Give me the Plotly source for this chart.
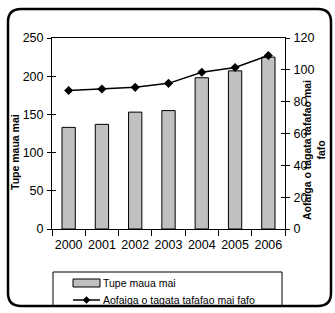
import plotly.graph_objects as go

years = ["2000", "2001", "2002", "2003", "2004", "2005", "2006"]
tupe = [133, 137, 153, 155, 198, 207, 225]
aofaiga = [87, 88, 89, 91.5, 98.5, 101.5, 109]
bar_name = "Tupe maua mai"
line_name = "Aofaiga o tagata tafafao mai fafo"
left_title = "Tupe maua mai"
right_title = "Aofaiga o tagata tafafao mai<br>fafo"

W, H = 335, 313
L, R, T, B = 52, 50, 38, 84
pw, ph = W - L - R, H - T - B

def px(x):
    return (x - L) / pw

def py(y):
    return (H - B - y) / ph

FONT = "Liberation Sans, Arial, sans-serif"

fig = go.Figure()
fig.add_trace(go.Bar(x=years, y=tupe, name=bar_name, width=0.4,
                     marker=dict(color="#c0c0c0", line=dict(color="black", width=1)),
                     showlegend=False))
fig.add_trace(go.Scatter(x=years, y=aofaiga, name=line_name, yaxis="y2",
                         mode="lines+markers",
                         line=dict(color="black", width=1.5),
                         marker=dict(symbol="diamond", size=7, color="black"),
                         showlegend=False))
# invisible helpers so the inside-tick axes are drawn
fig.add_trace(go.Scatter(x=[years[0]], y=[0], yaxis="y3", mode="markers",
                         marker=dict(opacity=0), hoverinfo="skip", showlegend=False))
fig.add_trace(go.Scatter(x=[years[0]], y=[0], yaxis="y4", mode="markers",
                         marker=dict(opacity=0), hoverinfo="skip", showlegend=False))

shapes = []
# outer rounded border
x0, x1, y0, y1, r = 8, 331, 9, 306, 13
path = (f"M {px(x0+r)},{py(y0)} L {px(x1-r)},{py(y0)} Q {px(x1)},{py(y0)} {px(x1)},{py(y0+r)} "
        f"L {px(x1)},{py(y1-r)} Q {px(x1)},{py(y1)} {px(x1-r)},{py(y1)} "
        f"L {px(x0+r)},{py(y1)} Q {px(x0)},{py(y1)} {px(x0)},{py(y1-r)} "
        f"L {px(x0)},{py(y0+r)} Q {px(x0)},{py(y0)} {px(x0+r)},{py(y0)} Z")
shapes.append(dict(type="path", xref="paper", yref="paper", path=path,
                   line=dict(color="black", width=2.5)))
# legend box
shapes.append(dict(type="rect", xref="paper", yref="paper",
                   x0=px(53), x1=px(282), y0=py(272), y1=py(306),
                   line=dict(color="black", width=1)))
# legend bar swatch
shapes.append(dict(type="rect", xref="paper", yref="paper",
                   x0=px(73), x1=px(100), y0=py(279), y1=py(287),
                   fillcolor="#c0c0c0", line=dict(color="black", width=1)))
# legend line swatch
shapes.append(dict(type="line", xref="paper", yref="paper",
                   x0=px(73), x1=px(100), y0=py(300), y1=py(300),
                   line=dict(color="black", width=1.5)))
cx, cy, d = 86.5, 300, 3.5
shapes.append(dict(type="path", xref="paper", yref="paper",
                   path=f"M {px(cx)},{py(cy-d)} L {px(cx+d)},{py(cy)} L {px(cx)},{py(cy+d)} L {px(cx-d)},{py(cy)} Z",
                   fillcolor="black", line=dict(color="black", width=0.5)))

annotations = [
    dict(text=bar_name, xref="paper", yref="paper", x=px(101), y=py(283),
         xanchor="left", yanchor="middle", showarrow=False,
         font=dict(family=FONT, size=10.5, color="black")),
    dict(text=line_name, xref="paper", yref="paper", x=px(101), y=py(300),
         xanchor="left", yanchor="middle", showarrow=False,
         font=dict(family=FONT, size=10.5, color="black")),
    dict(text=f"<b>{left_title}</b>", xref="paper", yref="paper", x=px(15), y=py(152),
         xanchor="center", yanchor="middle", showarrow=False, textangle=-90,
         font=dict(family=FONT, size=10.5, color="black")),
    dict(text=f"<b>{right_title}</b>", xref="paper", yref="paper", x=px(314), y=py(150),
         xanchor="center", yanchor="middle", showarrow=False, textangle=-90,
         font=dict(family=FONT, size=10.5, color="black")),
]

axis_font = dict(family=FONT, size=12.5, color="black")
fig.update_layout(
    width=W, height=H,
    margin=dict(l=L, r=R, t=T, b=B),
    paper_bgcolor="white", plot_bgcolor="white",
    showlegend=False,
    bargap=0.6,
    xaxis=dict(type="category", showline=True, linecolor="black", linewidth=1,
               mirror=True, ticks="outside", tickson="boundaries", ticklen=6,
               tickcolor="black", showgrid=False, tickfont=axis_font,
               tickangle=0, ticklabelstandoff=4),
    yaxis=dict(range=[0, 250], dtick=50, showline=True, linecolor="black", linewidth=1,
               ticks="outside", ticklen=4, tickcolor="black", showgrid=False,
               zeroline=False, tickfont=axis_font, ticklabelstandoff=1),
    yaxis2=dict(range=[0, 120], dtick=20, overlaying="y", side="right",
                showline=True, linecolor="black", linewidth=1,
                ticks="outside", ticklen=4, tickcolor="black", showgrid=False,
                zeroline=False, tickfont=axis_font, ticklabelstandoff=1),
    yaxis3=dict(range=[0, 250], dtick=50, overlaying="y", side="left",
                showline=False, ticks="inside", ticklen=4, tickcolor="black",
                showgrid=False, zeroline=False, showticklabels=False),
    yaxis4=dict(range=[0, 120], dtick=20, overlaying="y", side="right",
                showline=False, ticks="inside", ticklen=4, tickcolor="black",
                showgrid=False, zeroline=False, showticklabels=False),
    shapes=shapes,
    annotations=annotations,
)

fig.write_html("out.html", config={"displayModeBar": False},
               post_script="document.body.style.margin='0px';")
